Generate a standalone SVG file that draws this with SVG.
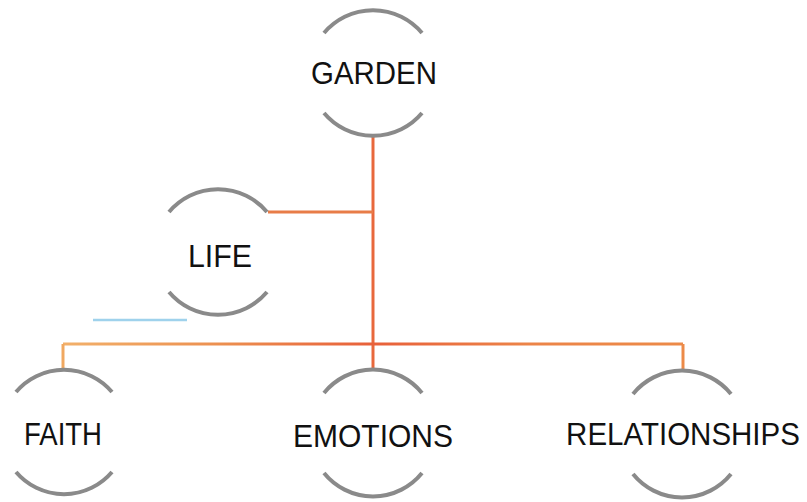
<svg xmlns="http://www.w3.org/2000/svg" width="807" height="502" viewBox="0 0 807 502">
<defs>
<style>
.arc{fill:none;stroke:#8a8a8a;stroke-width:4;stroke-linecap:butt}
.lbl{font-family:"Liberation Sans",Arial,sans-serif;font-size:32px;fill:#111;text-anchor:middle}
.con{fill:none;stroke-width:3}
</style>
<linearGradient id="hg" x1="63" y1="0" x2="683" y2="0" gradientUnits="userSpaceOnUse">
<stop offset="0" stop-color="#f2b06a"/>
<stop offset="0.25" stop-color="#ec9050"/>
<stop offset="0.5" stop-color="#e8603a"/>
<stop offset="0.75" stop-color="#ec8448"/>
<stop offset="1" stop-color="#ec8a48"/>
</linearGradient>
</defs>
<rect width="807" height="502" fill="#fff"/>
<g id="connectors">
<path class="con" stroke="#e8683c" d="M373,137 V369"/>
<path class="con" stroke="#e87c48" d="M268,212 H373"/>
<path class="con" stroke="url(#hg)" d="M63,344 H683"/>
<path class="con" stroke="#f0a860" d="M63,344 V368"/>
<path class="con" stroke="#ec8a48" d="M683,344 V370"/>
</g>
<g id="garden">
<path class="arc" d="M324,33 A64,64 0 0 1 422,33"/>
<path class="arc" d="M324,113 A64,64 0 0 0 422,113"/>
<text class="lbl" x="374" y="84" textLength="126" lengthAdjust="spacingAndGlyphs">GARDEN</text>
</g>
<g id="life">
<path class="arc" d="M169,212 A64,64 0 0 1 267,212"/>
<path class="arc" d="M169,292 A64,64 0 0 0 267,292"/>
<text class="lbl" x="220" y="267" textLength="64" lengthAdjust="spacingAndGlyphs">LIFE</text>
</g>
<g id="faith">
<path class="arc" d="M16,392 A63,63 0 0 1 112,392"/>
<path class="arc" d="M16,472 A63,63 0 0 0 112,472"/>
<text class="lbl" x="63" y="445" textLength="78" lengthAdjust="spacingAndGlyphs">FAITH</text>
</g>
<g id="emotions">
<path class="arc" d="M324,393 A63,63 0 0 1 422,393"/>
<path class="arc" d="M324,473 A63,63 0 0 0 422,473"/>
<text class="lbl" x="373" y="447" textLength="160" lengthAdjust="spacingAndGlyphs">EMOTIONS</text>
</g>
<g id="relationships">
<path class="arc" d="M633,394 A63,63 0 0 1 731,394"/>
<path class="arc" d="M633,474 A63,63 0 0 0 731,474"/>
<text class="lbl" transform="translate(683,445) scale(1,1.05)" x="0" y="0" style="font-size:29.5px">RELATIONSHIPS</text>
</g>
<path d="M93,320 H187" stroke="#9fd2ec" stroke-width="2.5" fill="none"/>
</svg>
